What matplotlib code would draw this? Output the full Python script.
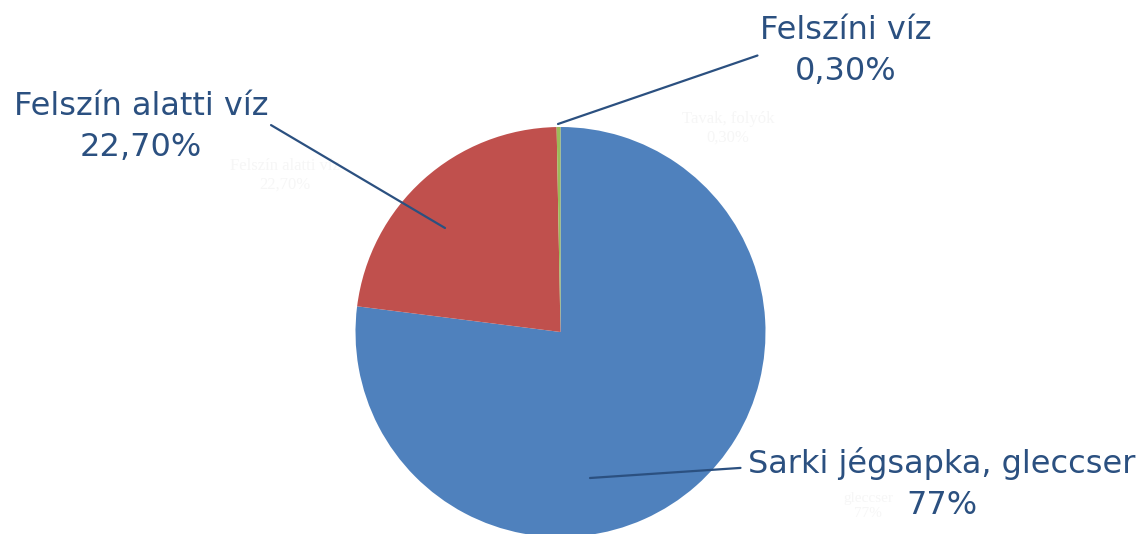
import matplotlib
matplotlib.use('Agg')
import matplotlib.pyplot as plt
import numpy as np

# water share data (Hungarian labels)
labels = ['Sarki jégsapka, gleccser', 'Felszín alatti víz', 'Felszíni víz']
values = [77.0, 22.7, 0.3]
pct_text = ['77%', '22,70%', '0,30%']
colors = ['#4F81BD', '#C0504D', '#9BBB59']
text_color = '#2B5080'

W, H = 1147, 534
fig = plt.figure(figsize=(W / 100, H / 100), dpi=100)
ax = fig.add_axes([0, 0, 1, 1])

cx, cy, r = 560.5, H - 332, 205
ax.pie(values, colors=colors, startangle=90, counterclock=False,
       center=(cx, cy), radius=r, frame=True,
       wedgeprops=dict(linewidth=0))
ax.set_xlim(0, W)
ax.set_ylim(0, H)
ax.set_aspect('equal')
ax.axis('off')

# faint ghost labels (barely visible in the original)
ghost = '#f6f6f6'
ax.text(728, H - 128, 'Tavak, folyók\n0,30%', color=ghost, fontsize=12,
        ha='center', va='center', family='Liberation Serif')
ax.text(285, H - 175, 'Felszín alatti víz\n22,70%', color=ghost, fontsize=12,
        ha='center', va='center', family='Liberation Serif')
ax.text(868, H - 506, 'gleccser\n77%', color=ghost, fontsize=11,
        ha='center', va='center', family='Liberation Serif')

fs = 23
ls = 1.38
# label annotations with leader lines
ax.annotate(labels[2] + '\n' + pct_text[2], xy=(558, H - 124), xytext=(846, H - 51),
            ha='center', va='center', fontsize=fs, color=text_color, linespacing=ls,
            arrowprops=dict(arrowstyle='-', color=text_color, lw=1.6,
                            shrinkA=0, shrinkB=0, relpos=(0.0, 0.45)))
ax.annotate(labels[1] + '\n' + pct_text[1], xy=(445, H - 228), xytext=(141, H - 127),
            ha='center', va='center', fontsize=fs, color=text_color, linespacing=ls,
            arrowprops=dict(arrowstyle='-', color=text_color, lw=1.6,
                            shrinkA=0, shrinkB=0, relpos=(1.0, 0.55)))
ax.annotate(labels[0] + '\n' + pct_text[0], xy=(590, H - 478), xytext=(942, H - 484),
            ha='center', va='center', fontsize=fs, color=text_color, linespacing=ls,
            arrowprops=dict(arrowstyle='-', color=text_color, lw=1.6,
                            shrinkA=0, shrinkB=0, relpos=(-0.02, 0.72)))

fig.savefig('out.png', dpi=100)
